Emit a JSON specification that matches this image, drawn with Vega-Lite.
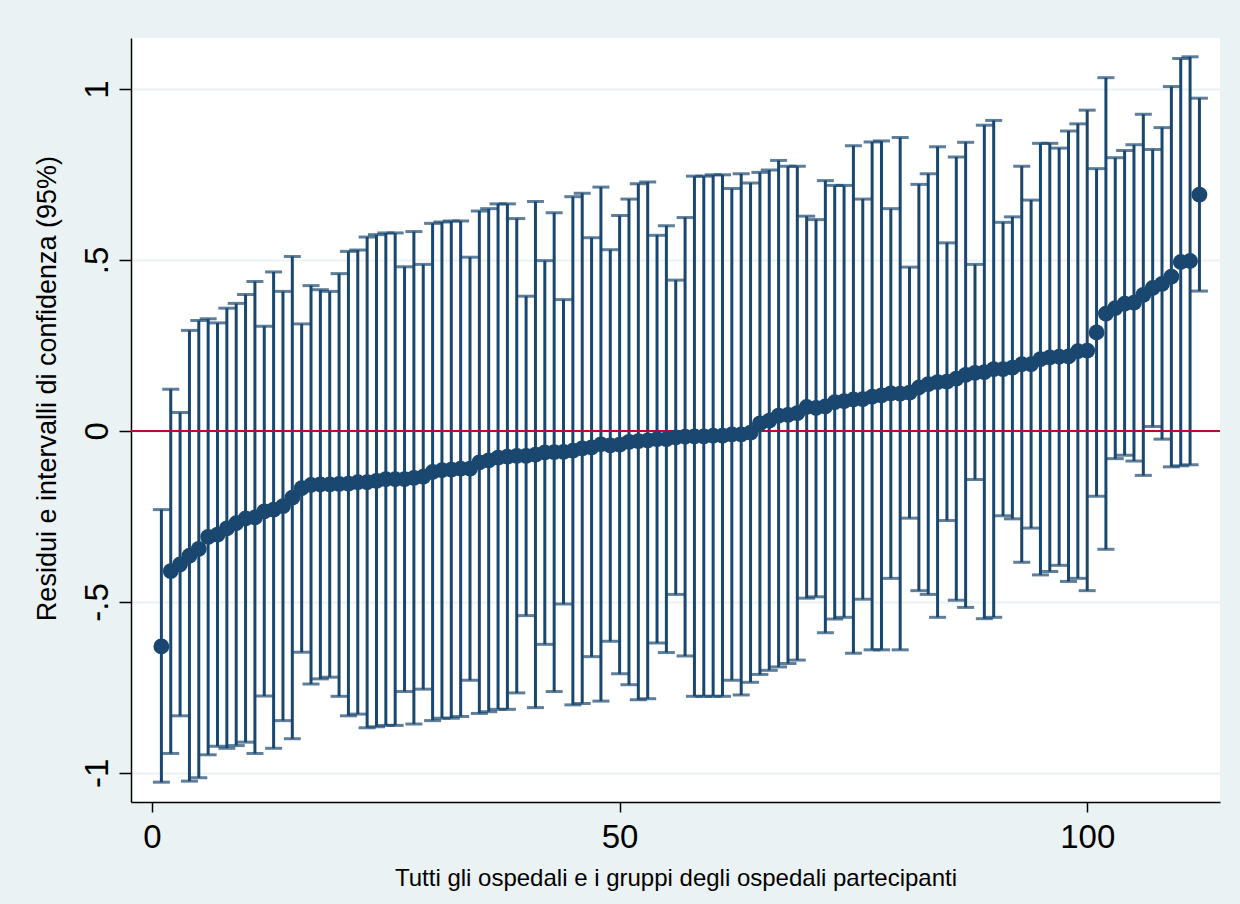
{
  "$schema": "https://vega.github.io/schema/vega-lite/v6.json",
  "width": 1089,
  "height": 764,
  "autosize": {"type": "none"},
  "padding": {"left": 131, "top": 38, "right": 20, "bottom": 102},
  "background": "#EAF2F3",
  "config": {"view": {"fill": "white", "stroke": null}, "font": "Liberation Sans"},
  "data": {"values": [
    {"i":1,"m":-0.63,"lo":-1.027,"hi":-0.23},
    {"i":2,"m":-0.41,"lo":-0.943,"hi":0.122},
    {"i":3,"m":-0.39,"lo":-0.833,"hi":0.054},
    {"i":4,"m":-0.365,"lo":-1.024,"hi":0.294},
    {"i":5,"m":-0.345,"lo":-1.014,"hi":0.323},
    {"i":6,"m":-0.31,"lo":-0.947,"hi":0.328},
    {"i":7,"m":-0.303,"lo":-0.922,"hi":0.316},
    {"i":8,"m":-0.285,"lo":-0.928,"hi":0.359},
    {"i":9,"m":-0.27,"lo":-0.92,"hi":0.373},
    {"i":10,"m":-0.256,"lo":-0.91,"hi":0.399},
    {"i":11,"m":-0.253,"lo":-0.943,"hi":0.437},
    {"i":12,"m":-0.235,"lo":-0.775,"hi":0.306},
    {"i":13,"m":-0.23,"lo":-0.928,"hi":0.465},
    {"i":14,"m":-0.22,"lo":-0.847,"hi":0.408},
    {"i":15,"m":-0.195,"lo":-0.9,"hi":0.51},
    {"i":16,"m":-0.167,"lo":-0.647,"hi":0.313},
    {"i":17,"m":-0.158,"lo":-0.74,"hi":0.425},
    {"i":18,"m":-0.156,"lo":-0.725,"hi":0.413},
    {"i":19,"m":-0.156,"lo":-0.72,"hi":0.408},
    {"i":20,"m":-0.155,"lo":-0.776,"hi":0.46},
    {"i":21,"m":-0.154,"lo":-0.833,"hi":0.525},
    {"i":22,"m":-0.15,"lo":-0.828,"hi":0.529},
    {"i":23,"m":-0.15,"lo":-0.868,"hi":0.567},
    {"i":24,"m":-0.146,"lo":-0.865,"hi":0.574},
    {"i":25,"m":-0.141,"lo":-0.861,"hi":0.579},
    {"i":26,"m":-0.141,"lo":-0.861,"hi":0.579},
    {"i":27,"m":-0.141,"lo":-0.762,"hi":0.48},
    {"i":28,"m":-0.137,"lo":-0.857,"hi":0.583},
    {"i":29,"m":-0.134,"lo":-0.755,"hi":0.487},
    {"i":30,"m":-0.12,"lo":-0.847,"hi":0.607},
    {"i":31,"m":-0.115,"lo":-0.84,"hi":0.611},
    {"i":32,"m":-0.113,"lo":-0.84,"hi":0.614},
    {"i":33,"m":-0.11,"lo":-0.835,"hi":0.614},
    {"i":34,"m":-0.11,"lo":-0.729,"hi":0.508},
    {"i":35,"m":-0.092,"lo":-0.826,"hi":0.643},
    {"i":36,"m":-0.086,"lo":-0.821,"hi":0.65},
    {"i":37,"m":-0.078,"lo":-0.814,"hi":0.664},
    {"i":38,"m":-0.075,"lo":-0.814,"hi":0.664},
    {"i":39,"m":-0.073,"lo":-0.766,"hi":0.621},
    {"i":40,"m":-0.073,"lo":-0.54,"hi":0.394},
    {"i":41,"m":-0.069,"lo":-0.809,"hi":0.671},
    {"i":42,"m":-0.063,"lo":-0.624,"hi":0.498},
    {"i":43,"m":-0.062,"lo":-0.762,"hi":0.638},
    {"i":44,"m":-0.061,"lo":-0.506,"hi":0.384},
    {"i":45,"m":-0.058,"lo":-0.801,"hi":0.685},
    {"i":46,"m":-0.051,"lo":-0.797,"hi":0.695},
    {"i":47,"m":-0.048,"lo":-0.66,"hi":0.565},
    {"i":48,"m":-0.039,"lo":-0.79,"hi":0.713},
    {"i":49,"m":-0.042,"lo":-0.615,"hi":0.53},
    {"i":50,"m":-0.04,"lo":-0.71,"hi":0.63},
    {"i":51,"m":-0.032,"lo":-0.742,"hi":0.678},
    {"i":52,"m":-0.03,"lo":-0.786,"hi":0.723},
    {"i":53,"m":-0.028,"lo":-0.783,"hi":0.728},
    {"i":54,"m":-0.024,"lo":-0.62,"hi":0.572},
    {"i":55,"m":-0.024,"lo":-0.648,"hi":0.6},
    {"i":56,"m":-0.019,"lo":-0.478,"hi":0.441},
    {"i":57,"m":-0.017,"lo":-0.658,"hi":0.624},
    {"i":58,"m":-0.016,"lo":-0.776,"hi":0.745},
    {"i":59,"m":-0.016,"lo":-0.776,"hi":0.745},
    {"i":60,"m":-0.014,"lo":-0.776,"hi":0.749},
    {"i":61,"m":-0.014,"lo":-0.776,"hi":0.749},
    {"i":62,"m":-0.01,"lo":-0.729,"hi":0.709},
    {"i":63,"m":-0.01,"lo":-0.772,"hi":0.752},
    {"i":64,"m":-0.005,"lo":-0.735,"hi":0.725},
    {"i":65,"m":0.022,"lo":-0.712,"hi":0.756},
    {"i":66,"m":0.03,"lo":-0.7,"hi":0.763},
    {"i":67,"m":0.045,"lo":-0.69,"hi":0.791},
    {"i":68,"m":0.047,"lo":-0.68,"hi":0.774},
    {"i":69,"m":0.052,"lo":-0.67,"hi":0.774},
    {"i":70,"m":0.07,"lo":-0.489,"hi":0.628},
    {"i":71,"m":0.067,"lo":-0.485,"hi":0.618},
    {"i":72,"m":0.072,"lo":-0.59,"hi":0.732},
    {"i":73,"m":0.084,"lo":-0.55,"hi":0.718},
    {"i":74,"m":0.087,"lo":-0.545,"hi":0.718},
    {"i":75,"m":0.092,"lo":-0.65,"hi":0.834},
    {"i":76,"m":0.093,"lo":-0.492,"hi":0.678},
    {"i":77,"m":0.1,"lo":-0.64,"hi":0.845},
    {"i":78,"m":0.104,"lo":-0.64,"hi":0.848},
    {"i":79,"m":0.11,"lo":-0.431,"hi":0.65},
    {"i":80,"m":0.109,"lo":-0.64,"hi":0.858},
    {"i":81,"m":0.112,"lo":-0.255,"hi":0.479},
    {"i":82,"m":0.127,"lo":-0.467,"hi":0.721},
    {"i":83,"m":0.137,"lo":-0.478,"hi":0.752},
    {"i":84,"m":0.143,"lo":-0.545,"hi":0.831},
    {"i":85,"m":0.144,"lo":-0.262,"hi":0.55},
    {"i":86,"m":0.153,"lo":-0.495,"hi":0.801},
    {"i":87,"m":0.164,"lo":-0.516,"hi":0.844},
    {"i":88,"m":0.17,"lo":-0.142,"hi":0.487},
    {"i":89,"m":0.172,"lo":-0.549,"hi":0.894},
    {"i":90,"m":0.181,"lo":-0.545,"hi":0.908},
    {"i":91,"m":0.181,"lo":-0.248,"hi":0.61},
    {"i":92,"m":0.185,"lo":-0.257,"hi":0.626},
    {"i":93,"m":0.195,"lo":-0.384,"hi":0.774},
    {"i":94,"m":0.195,"lo":-0.284,"hi":0.675},
    {"i":95,"m":0.21,"lo":-0.421,"hi":0.841},
    {"i":96,"m":0.215,"lo":-0.411,"hi":0.841},
    {"i":97,"m":0.217,"lo":-0.393,"hi":0.827},
    {"i":98,"m":0.218,"lo":-0.44,"hi":0.877},
    {"i":99,"m":0.233,"lo":-0.431,"hi":0.898},
    {"i":100,"m":0.235,"lo":-0.467,"hi":0.938},
    {"i":101,"m":0.288,"lo":-0.191,"hi":0.767},
    {"i":102,"m":0.343,"lo":-0.346,"hi":1.033},
    {"i":103,"m":0.359,"lo":-0.081,"hi":0.799},
    {"i":104,"m":0.372,"lo":-0.071,"hi":0.82},
    {"i":105,"m":0.375,"lo":-0.088,"hi":0.837},
    {"i":106,"m":0.398,"lo":-0.13,"hi":0.926},
    {"i":107,"m":0.418,"lo":0.013,"hi":0.823},
    {"i":108,"m":0.43,"lo":-0.024,"hi":0.887},
    {"i":109,"m":0.451,"lo":-0.105,"hi":1.007},
    {"i":110,"m":0.494,"lo":-0.102,"hi":1.089},
    {"i":111,"m":0.497,"lo":-0.099,"hi":1.094},
    {"i":112,"m":0.691,"lo":0.409,"hi":0.973}
  ]},
  "layer": [
    {
      "mark": {"type": "rule", "color": "#1A476F", "strokeWidth": 3},
      "encoding": {
        "x": {"field": "i", "type": "quantitative", "scale": {"domain": [-2.25, 114.2], "nice": false, "zero": false},
          "axis": {"values": [0, 50, 100], "title": "Tutti gli ospedali e i gruppi degli ospedali partecipanti",
            "titleFontSize": 24, "titleFontWeight": "normal", "titleColor": "black", "titlePadding": 12,
            "labelFontSize": 33, "labelColor": "black", "labelPadding": 9, "tickColor": "black", "tickSize": 10, "tickWidth": 1.5,
            "domainColor": "black", "domainWidth": 1.5, "grid": false}},
        "y": {"field": "lo", "type": "quantitative", "scale": {"domain": [-1.085, 1.149], "nice": false, "zero": false},
          "title": "Residui e intervalli di confidenza (95%)",
          "axis": {"values": [-1, -0.5, 0, 0.5, 1], "title": "Residui e intervalli di confidenza (95%)",
            "labelExpr": "datum.value == 1 ? '1' : datum.value == -1 ? '-1' : datum.value == 0.5 ? '.5' : datum.value == -0.5 ? '-.5' : '0'",
            "titleFontSize": 27, "titleFontWeight": "normal", "titleColor": "black", "titlePadding": 20, "titleY": 350,
            "labelFontSize": 33, "labelColor": "black", "labelAngle": -90, "labelAlign": "center", "labelBaseline": "bottom", "labelPadding": 5,
            "tickColor": "black", "tickSize": 12, "tickWidth": 1.5, "domainColor": "black", "domainWidth": 1.5,
            "grid": true, "gridColor": "#EAF2F3", "gridWidth": 2}},
        "y2": {"field": "hi"}
      }
    },
    {
      "data": {"values": [{"z": 0}]},
      "mark": {"type": "rule", "color": "#C10534", "strokeWidth": 2},
      "encoding": {"y": {"field": "z", "type": "quantitative", "title": "Residui e intervalli di confidenza (95%)"}}
    },
    {
      "mark": {"type": "tick", "orient": "horizontal", "color": "#1A476F", "size": 17, "thickness": 3},
      "encoding": {"x": {"field": "i", "type": "quantitative"}, "y": {"field": "lo", "type": "quantitative", "title": "Residui e intervalli di confidenza (95%)"}}
    },
    {
      "mark": {"type": "tick", "orient": "horizontal", "color": "#1A476F", "size": 17, "thickness": 3},
      "encoding": {"x": {"field": "i", "type": "quantitative"}, "y": {"field": "hi", "type": "quantitative", "title": "Residui e intervalli di confidenza (95%)"}}
    },
    {
      "mark": {"type": "point", "shape": "circle", "filled": true, "opacity": 1, "color": "#1A476F", "size": 250},
      "encoding": {"x": {"field": "i", "type": "quantitative"}, "y": {"field": "m", "type": "quantitative", "title": "Residui e intervalli di confidenza (95%)"}}
    }
  ]
}
